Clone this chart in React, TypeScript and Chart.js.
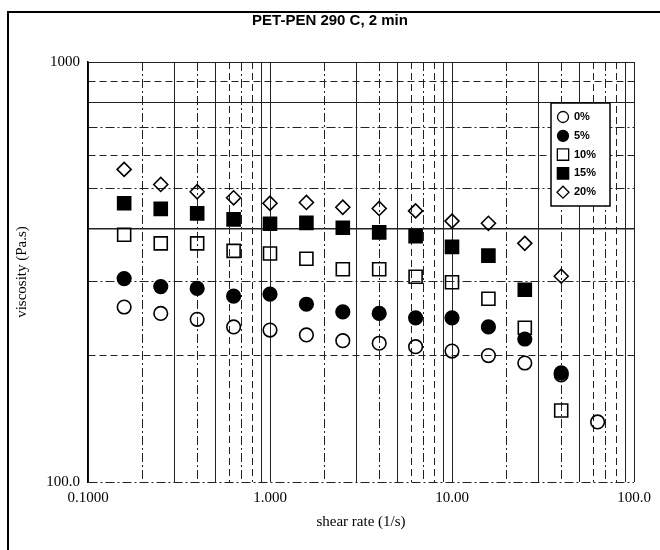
import React, { useEffect, useRef } from 'react';
import { Chart, registerables } from 'chart.js';

Chart.register(...registerables);

// Shear rates (1/s), five points per decade
const shearRates = [0.158, 0.251, 0.398, 0.631, 1.0, 1.585, 2.512, 3.981, 6.31, 10.0, 15.85, 25.12, 39.81, 63.1];

// Viscosity (Pa.s) for each PEN content
const seriesLabels = ['0%', '5%', '10%', '15%', '20%'];
const visc0 = [261, 252, 244, 234, 230, 224, 217, 214, 210, 205, 200, 192, 180, 139];
const visc5 = [305, 292, 289, 277, 280, 265, 254, 252, 246, 246, 234, 219, 182];
const visc10 = [388, 370, 370, 355, 350, 340, 321, 321, 308, 299, 273, 233, 148];
const visc15 = [461, 447, 436, 422, 412, 414, 403, 393, 385, 363, 346, 287];
const visc20 = [555, 511, 491, 475, 461, 463, 451, 448, 442, 418, 413, 370, 309];

// Grid positions (1-9 per decade) and labelled ticks
const xGridValues = [
  0.1, 0.2, 0.3, 0.4, 0.5, 0.6, 0.7, 0.8, 0.9,
  1, 2, 3, 4, 5, 6, 7, 8, 9,
  10, 20, 30, 40, 50, 60, 70, 80, 90, 100,
];
const yGridValues = [100, 200, 300, 400, 500, 600, 700, 800, 900, 1000];
const xMajorTicks = [0.1, 1, 10, 100];
const xTickText = ['0.1000', '1.000', '10.00', '100.0'];
const yMajorTicks = [100, 1000];
const yTickText = ['100.0', '1000'];

const titleText = 'PET-PEN 290 C, 2 min';
const xTitle = 'shear rate (1/s)';
const yTitle = 'viscosity (Pa.s)';

const SERIF = '"Liberation Serif", "Times New Roman", serif';
const SANS = '"Liberation Sans", Arial, sans-serif';

const DASH_DOT = [9, 3, 2, 3];
const DASHED = [7, 4];

// Line pattern for each vertical grid line, by leading digit
const vDash: Record<number, number[]> = {
  1: [], 2: DASH_DOT, 3: [], 4: DASH_DOT, 5: [], 6: DASHED, 7: DASH_DOT, 8: DASHED, 9: [],
};
// Line pattern for each horizontal grid line, by value
const hDash: Record<number, number[]> = {
  100: DASH_DOT, 200: DASHED, 300: DASH_DOT, 400: [], 500: DASH_DOT,
  600: DASHED, 700: DASH_DOT, 800: [], 900: DASHED, 1000: [],
};

function leadingDigit(v: number) {
  const p = Math.floor(Math.log10(v) + 1e-9);
  return Math.round(v / Math.pow(10, p));
}

function toPoints(vals: number[]) {
  return vals.map((y, i) => ({ x: shearRates[i], y }));
}

function traceMarker(ctx: CanvasRenderingContext2D, style: string, x: number, y: number, r: number) {
  ctx.beginPath();
  if (style === 'circle') {
    ctx.arc(x, y, r, 0, Math.PI * 2);
  } else if (style === 'rect') {
    const s = r * Math.SQRT1_2;
    ctx.rect(x - s, y - s, 2 * s, 2 * s);
  } else {
    ctx.moveTo(x - r, y);
    ctx.lineTo(x, y - r);
    ctx.lineTo(x + r, y);
    ctx.lineTo(x, y + r);
    ctx.closePath();
  }
}

const framePlugin = {
  id: 'frame',
  beforeDraw(chart: any) {
    const { ctx } = chart;
    ctx.save();
    ctx.fillStyle = '#fff';
    ctx.fillRect(0, 0, chart.width, chart.height);
    ctx.strokeStyle = '#000';
    ctx.lineWidth = 2;
    ctx.beginPath();
    ctx.moveTo(8, chart.height);
    ctx.lineTo(8, 12);
    ctx.lineTo(chart.width, 12);
    ctx.stroke();
    ctx.font = `bold 15px ${SANS}`;
    ctx.fillStyle = '#000';
    ctx.textAlign = 'center';
    ctx.textBaseline = 'middle';
    ctx.fillText(titleText, chart.width / 2, 21);
    ctx.restore();
  },
};

const legendBoxPlugin = {
  id: 'legendBox',
  afterDraw(chart: any) {
    const { ctx, chartArea } = chart;
    const bx = chartArea.right - 83;
    const by = chartArea.top + 41;
    const bw = 59;
    const bh = 103;
    ctx.save();
    ctx.fillStyle = '#fff';
    ctx.fillRect(bx, by, bw, bh);
    ctx.strokeStyle = '#000';
    ctx.lineWidth = 1.5;
    ctx.strokeRect(bx, by, bw, bh);
    const sizes: Record<string, number> = { circle: 5.5, rect: 8, rectRot: 6 };
    chart.data.datasets.forEach((ds: any, i: number) => {
      const cy = by + 14 + i * 18.8;
      const cx = bx + 12;
      traceMarker(ctx, ds.pointStyle, cx, cy, sizes[ds.pointStyle]);
      ctx.fillStyle = ds.backgroundColor;
      ctx.fill();
      ctx.strokeStyle = '#000';
      ctx.lineWidth = 1.3;
      ctx.stroke();
      ctx.fillStyle = '#000';
      ctx.font = `bold 11px ${SANS}`;
      ctx.textAlign = 'left';
      ctx.textBaseline = 'middle';
      ctx.fillText(ds.label, bx + 23, cy);
    });
    ctx.restore();
  },
};

const OPEN = 'rgba(0,0,0,0)';
const FILLED = '#000';

export default function App() {
  const canvasRef = useRef<HTMLCanvasElement | null>(null);

  useEffect(() => {
    if (!canvasRef.current) return;
    const mk = (label: string, vals: number[], style: string, r: number, fill: string, order: number) => ({
      label,
      data: toPoints(vals),
      pointStyle: style,
      pointRadius: r,
      pointBorderWidth: 1.6,
      borderColor: '#000',
      backgroundColor: fill,
      pointBackgroundColor: fill,
      pointBorderColor: '#000',
      showLine: false,
      order,
    });

    const chart = new Chart(canvasRef.current, {
      type: 'scatter',
      data: {
        datasets: [
          mk(seriesLabels[0], visc0, 'circle', 6.8, OPEN, 3),
          mk(seriesLabels[1], visc5, 'circle', 6.8, FILLED, 0),
          mk(seriesLabels[2], visc10, 'rect', 9.2, OPEN, 2),
          mk(seriesLabels[3], visc15, 'rect', 9.2, FILLED, 1),
          mk(seriesLabels[4], visc20, 'rectRot', 7, OPEN, 4),
        ],
      },
      options: {
        responsive: false,
        animation: false,
        layout: { padding: { top: 62, right: 26, bottom: 0, left: 0 } },
        plugins: {
          legend: { display: false },
          title: { display: false },
          tooltip: { enabled: false },
        },
        scales: {
          x: {
            type: 'logarithmic',
            min: 0.1,
            max: 100,
            afterBuildTicks: (s: any) => { s.ticks = xGridValues.map((value) => ({ value })); },
            afterFit: (s: any) => { s.height = 68; },
            border: {
              display: false,
              dash: (ctx: any) => (ctx.tick ? vDash[leadingDigit(ctx.tick.value)] || [] : []),
            },
            grid: {
              drawTicks: false,
              color: '#222',
              lineWidth: 1,
            },
            ticks: {
              autoSkip: false,
              maxRotation: 0,
              padding: 7,
              color: '#000',
              font: { family: SERIF, size: 15 },
              callback: (v: any) => {
                const idx = xMajorTicks.findIndex((m) => Math.abs(m - Number(v)) < 1e-6 * Math.max(1, m));
                return idx >= 0 ? xTickText[idx] : '';
              },
            },
            title: {
              display: true,
              text: xTitle,
              color: '#000',
              font: { family: SERIF, size: 15 },
              padding: { top: 0, bottom: 19 },
            },
          },
          y: {
            type: 'logarithmic',
            min: 100,
            max: 1000,
            afterBuildTicks: (s: any) => { s.ticks = yGridValues.map((value) => ({ value })); },
            afterFit: (s: any) => { s.width = 88; },
            border: {
              display: true,
              color: '#000',
              width: 1.5,
              dash: (ctx: any) => (ctx.tick ? hDash[Math.round(ctx.tick.value)] || [] : []),
            },
            grid: {
              drawTicks: false,
              color: '#222',
              lineWidth: (ctx: any) => (ctx.tick && Math.round(ctx.tick.value) === 400 ? 1.5 : 1),
            },
            ticks: {
              autoSkip: false,
              padding: 8,
              color: '#000',
              font: { family: SERIF, size: 15 },
              callback: (v: any) => {
                const idx = yMajorTicks.findIndex((m) => Math.abs(m - Number(v)) < 1e-6);
                return idx >= 0 ? yTickText[idx] : '';
              },
            },
            title: {
              display: true,
              text: yTitle,
              color: '#000',
              font: { family: SERIF, size: 15 },
              padding: { top: 13, bottom: 0 },
            },
          },
        },
      },
      plugins: [framePlugin, legendBoxPlugin],
    } as any);

    return () => chart.destroy();
  }, []);

  return (
    <div style={{ position: 'absolute', left: 0, top: 0, width: 660, height: 550 }}>
      <canvas ref={canvasRef} width={660} height={550} />
    </div>
  );
}
